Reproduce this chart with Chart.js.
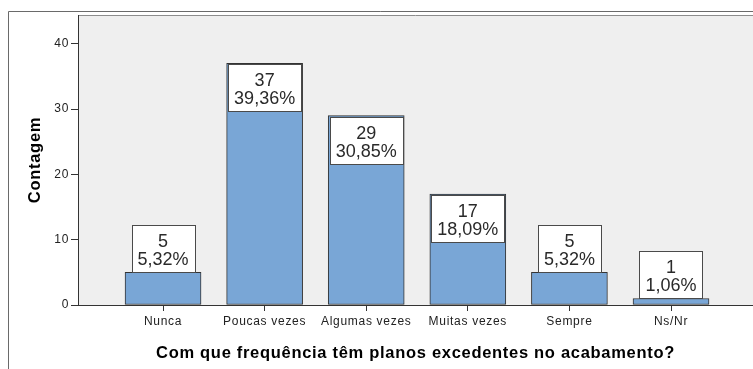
<!DOCTYPE html>
<html>
<head>
<meta charset="utf-8">
<script src="https://cdn.jsdelivr.net/npm/chart.js@4.4.1/dist/chart.umd.min.js"></script>
<style>
  html, body { margin: 0; padding: 0; background: #ffffff; }
  canvas { display: block; }
</style>
</head>
<body>
<canvas id="chart" width="753" height="369"></canvas>
<script>
// Response categories and their counts
const categories = ['Nunca', 'Poucas vezes', 'Algumas vezes', 'Muitas vezes', 'Sempre', 'Ns/Nr'];
const counts = [5, 37, 29, 17, 5, 1];
const percentLabels = ['5,32%', '39,36%', '30,85%', '18,09%', '5,32%', '1,06%'];
const yTicks = [0, 10, 20, 30, 40];
const xTitle = 'Com que frequência têm planos excedentes no acabamento?';
const yTitle = 'Contagem';

const FONT = "'Liberation Sans', Arial, sans-serif";

// Outer frame, plot background and top border of the plot
const frame = {
  id: 'frame',
  beforeDraw(chart) {
    const { ctx, chartArea: a } = chart;
    ctx.save();
    ctx.fillStyle = '#ffffff';
    ctx.fillRect(0, 0, chart.width, chart.height);
    ctx.fillStyle = '#efefef';
    ctx.fillRect(a.left, a.top, a.right - a.left, a.bottom - a.top);
    ctx.strokeStyle = '#6a6a6a';
    ctx.lineWidth = 1;
    ctx.beginPath();
    ctx.moveTo(8.5, chart.height);
    ctx.lineTo(8.5, 11.5);
    ctx.lineTo(chart.width, 11.5);
    ctx.stroke();
    ctx.strokeStyle = '#8c8c8c';
    ctx.beginPath();
    ctx.moveTo(a.left, a.top + 0.5);
    ctx.lineTo(a.right, a.top + 0.5);
    ctx.stroke();
    ctx.restore();
    // slightly open letter spacing for axis text
    ctx.letterSpacing = '0.7px';
  }
};

// Boxed count / percentage labels on each bar
const boxLabels = {
  id: 'boxLabels',
  afterDatasetsDraw(chart) {
    const { ctx } = chart;
    const meta = chart.getDatasetMeta(0);
    const boxH = 47;
    ctx.save();
    ctx.letterSpacing = '0px';
    ctx.font = '18px ' + FONT;
    ctx.textAlign = 'center';
    ctx.textBaseline = 'alphabetic';
    meta.data.forEach((bar, i) => {
      const lines = [String(counts[i]), percentLabels[i]];
      const w = Math.max(...lines.map(t => ctx.measureText(t).width)) + 12;
      const barH = bar.base - bar.y;
      const top = barH >= boxH ? bar.y + 1 : bar.y - boxH;
      const left = Math.round(bar.x - w / 2) + 0.5;
      ctx.fillStyle = '#ffffff';
      ctx.fillRect(left, Math.round(top) + 0.5, Math.round(w), boxH);
      ctx.strokeStyle = '#4a4a4a';
      ctx.lineWidth = 1;
      ctx.strokeRect(left, Math.round(top) + 0.5, Math.round(w), boxH);
      ctx.fillStyle = '#2a2a2a';
      ctx.fillText(lines[0], bar.x, top + 22);
      ctx.fillText(lines[1], bar.x, top + 40);
    });
    ctx.restore();
  }
};

new Chart(document.getElementById('chart'), {
  type: 'bar',
  data: {
    datasets: [{
      data: counts.map((v, i) => ({ x: i, y: v })),
      backgroundColor: '#79a6d6',
      borderColor: '#333333',
      borderWidth: 1,
      borderSkipped: false,
      barThickness: 76
    }]
  },
  options: {
    responsive: false,
    animation: false,
    devicePixelRatio: 1,
    layout: { padding: { top: 15, left: 0, right: 0, bottom: 0 } },
    plugins: { legend: { display: false }, tooltip: { enabled: false } },
    scales: {
      x: {
        type: 'linear',
        min: -0.837,
        max: 5.807,
        offset: false,
        afterBuildTicks: s => { s.ticks = categories.map((c, i) => ({ value: i })); },
        afterFit: s => { s.height = 64; },
        grid: { display: true, offset: false, drawOnChartArea: false, drawTicks: true, tickLength: 6, tickColor: '#333333' },
        border: { display: true, color: '#333333', width: 1 },
        ticks: {
          autoSkip: false, maxRotation: 0, padding: 3,
          color: '#222222', font: { family: FONT, size: 12 },
          callback: v => categories[v] ?? ''
        },
        title: {
          display: true, text: xTitle, color: '#000000',
          font: { family: FONT, size: 16.5, weight: 'bold' },
          padding: { top: 0, bottom: 6 }
        }
      },
      y: {
        min: 0,
        max: 44.4,
        afterBuildTicks: s => { s.ticks = yTicks.map(v => ({ value: v })); },
        afterFit: s => { s.width = 78; },
        grid: { display: true, drawOnChartArea: false, drawTicks: true, tickLength: 7, tickColor: '#333333' },
        border: { display: true, color: '#333333', width: 1 },
        ticks: { padding: 2, color: '#222222', font: { family: FONT, size: 12 } },
        title: {
          display: true, text: yTitle, color: '#000000',
          font: { family: FONT, size: 16.5, weight: 'bold' },
          padding: { top: 26, bottom: 0 }
        }
      }
    }
  },
  plugins: [frame, boxLabels]
});
</script>
</body>
</html>
